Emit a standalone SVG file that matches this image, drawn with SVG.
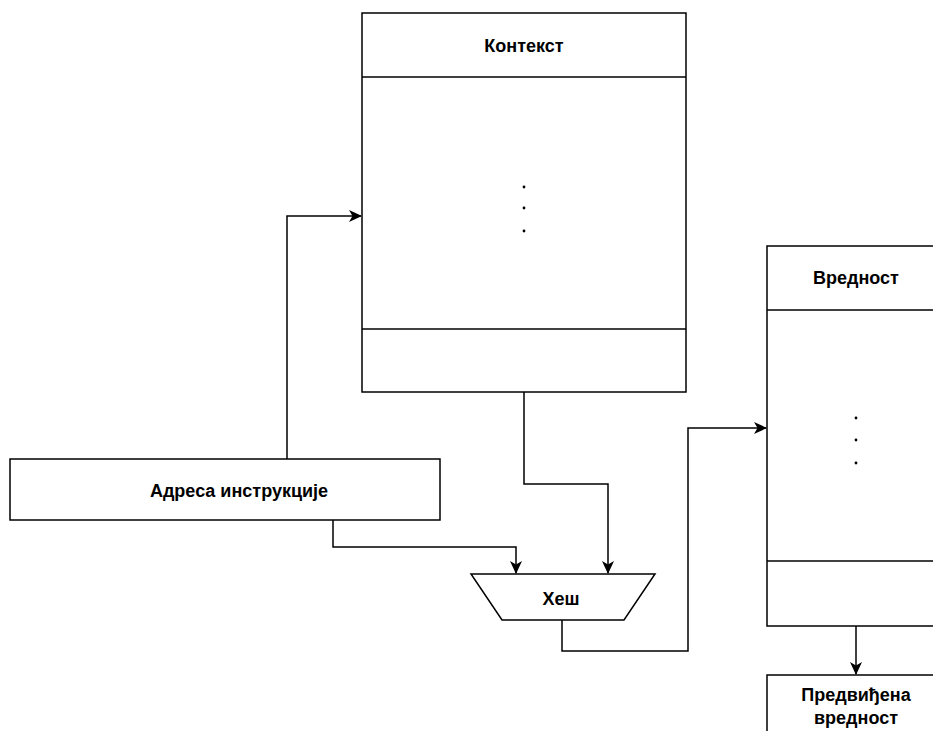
<svg xmlns="http://www.w3.org/2000/svg" width="933" height="731" viewBox="0 0 933 731">
<style>
.box{fill:#fff;stroke:#000;stroke-width:1.5}
.ln{fill:none;stroke:#000;stroke-width:1.5}
.t{font-family:"Liberation Sans",Arial,sans-serif;font-weight:bold;font-size:18px;fill:#000;text-anchor:middle;dominant-baseline:central}
.dot{fill:#000}
</style>
<defs>
<marker id="arr" markerWidth="14" markerHeight="14" refX="12" refY="7" orient="auto" markerUnits="userSpaceOnUse">
<path d="M0,1 L13,7 L0,13 L3.5,7 Z" fill="#000"/>
</marker>
</defs>
<rect width="933" height="731" fill="#fff"/>
<g id="connectors">
<path class="ln" d="M287,459 V216 H361" marker-end="url(#arr)"/>
<path class="ln" d="M333,520 V547 H516 V573" marker-end="url(#arr)"/>
<path class="ln" d="M524,392 V484 H608 V573" marker-end="url(#arr)"/>
<path class="ln" d="M562,620 V651 H688 V428 H766" marker-end="url(#arr)"/>
<path class="ln" d="M856,626 V674" marker-end="url(#arr)"/>
</g>
<g id="kontekst">
<rect class="box" x="362" y="13" width="324" height="379"/>
<line class="ln" x1="362" y1="77" x2="686" y2="77"/>
<line class="ln" x1="362" y1="329" x2="686" y2="329"/>
<text class="t" x="524" y="46">Контекст</text>
<circle class="dot" cx="524" cy="187" r="1.4"/>
<circle class="dot" cx="524" cy="208" r="1.4"/>
<circle class="dot" cx="524" cy="231" r="1.4"/>
</g>
<g id="adresa">
<rect class="box" x="10" y="459" width="430" height="61"/>
<text class="t" x="239" y="491">Адреса инструкције</text>
</g>
<g id="hes">
<polygon class="box" points="471,574 655,574 624,620 502,620"/>
<text class="t" x="561" y="599">Хеш</text>
</g>
<g id="vrednost">
<rect class="box" x="767" y="246" width="180" height="380"/>
<line class="ln" x1="767" y1="310" x2="947" y2="310"/>
<line class="ln" x1="767" y1="561" x2="947" y2="561"/>
<text class="t" x="856" y="278">Вредност</text>
<circle class="dot" cx="856" cy="418" r="1.4"/>
<circle class="dot" cx="856" cy="440" r="1.4"/>
<circle class="dot" cx="856" cy="463" r="1.4"/>
</g>
<g id="predvidjena">
<rect class="box" x="767" y="675" width="180" height="70"/>
<text class="t" x="856" y="695">Предвиђена</text>
<text class="t" x="856" y="718">вредност</text>
</g>
</svg>
